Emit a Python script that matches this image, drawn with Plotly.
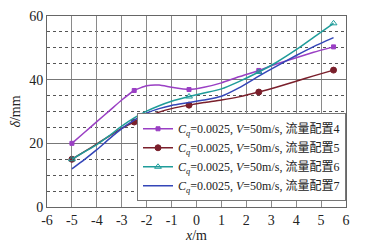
import plotly.graph_objects as go

# ---- data ----
names = [
    "<i>C</i><sub><i>q</i></sub>=0.0025, <i>V</i>=50m/s, 流量配置4",
    "<i>C</i><sub><i>q</i></sub>=0.0025, <i>V</i>=50m/s, 流量配置5",
    "<i>C</i><sub><i>q</i></sub>=0.0025, <i>V</i>=50m/s, 流量配置6",
    "<i>C</i><sub><i>q</i></sub>=0.0025, <i>V</i>=50m/s, 流量配置7",
]

x4 = [-5, -4.5, -4, -3.5, -3, -2.5, -2, -1.5, -1, -0.3, 0.3, 1, 1.7, 2.5, 3.2, 4, 4.7, 5.5]
y4 = [20, 23.4, 26.8, 30.2, 33.6, 36.6, 38.1, 38.3, 37.6, 36.9, 37.6, 39.0, 40.9, 42.9, 44.9, 46.9, 48.6, 50.3]
mx4 = [-5, -2.5, -0.3, 2.5, 5.5]
my4 = [20, 36.6, 36.9, 42.9, 50.3]

x5 = [-5, -4.5, -4, -3.5, -3, -2.5, -2, -1.5, -1, -0.3, 0.3, 1, 1.7, 2.5, 3.2, 4, 4.7, 5.5]
y5 = [15, 17.4, 19.8, 22.3, 24.7, 26.7, 28.4, 29.8, 30.9, 32.0, 32.8, 33.6, 34.6, 36.1, 37.6, 39.5, 41.2, 43.0]
mx5 = [-5, -2.5, -0.3, 2.5, 5.5]
my5 = [15, 26.7, 32.0, 36.1, 43.0]

x6 = [-5, -4.5, -4, -3.5, -3, -2.5, -2, -1.5, -1, -0.3, 0.3, 1, 1.7, 2.5, 3.2, 4, 4.7, 5.5]
y6 = [15, 17.3, 19.6, 22.4, 25.4, 28.0, 30.1, 31.8, 33.2, 34.7, 35.8, 37.1, 39.4, 42.4, 45.4, 49.4, 53.3, 57.7]
mx6 = [-5, -0.3, 2.5, 5.5]
my6 = [15, 34.7, 42.4, 57.7]

x7 = [-5, -4.5, -4, -3.5, -3, -2.5, -2, -1.5, -1, -0.3, 0.3, 1, 1.7, 2.5, 3.2, 4, 4.7, 5.5]
y7 = [12, 14.9, 18.0, 21.4, 24.6, 27.3, 29.5, 30.9, 31.9, 32.8, 33.6, 34.8, 37.4, 41.1, 44.2, 47.6, 50.4, 53.2]

x_ticks = [-6, -5, -4, -3, -2, -1, 0, 1, 2, 3, 4, 5, 6]
x_tick_labels = ["-6", "-5", "-4", "-3", "-2", "-1", "0", "1", "2", "3", "4", "5", "6"]
y_ticks = [0, 20, 40, 60]

colors = ["#9a3fc4", "#7a1f2b", "#1f9c9a", "#3446b8"]
symbols = ["square", "circle", "triangle-up-open", None]
msizes = [4, 6, 6, 0]

series = [
    (x4, y4, mx4, my4),
    (x5, y5, mx5, my5),
    (x6, y6, mx6, my6),
    (x7, y7, None, None),
]

SERIF = "Liberation Serif, Noto Sans CJK SC, serif"

fig = go.Figure()
for i, (xs, ys, mxs, mys) in enumerate(series):
    c = colors[i]
    fig.add_trace(go.Scatter(x=xs, y=ys, mode="lines",
                             line=dict(color=c, width=1.5, shape="spline", smoothing=0.5),
                             showlegend=False, hoverinfo="skip"))
    if mxs is not None:
        fig.add_trace(go.Scatter(x=mxs, y=mys, mode="markers",
                                 marker=dict(color=c, size=msizes[i], symbol=symbols[i],
                                             line=dict(color=c, width=1)),
                                 showlegend=False))
        fig.add_trace(go.Scatter(x=[None], y=[None], mode="lines+markers", name=names[i],
                                 line=dict(color=c, width=1.5),
                                 marker=dict(color=c, size=msizes[i], symbol=symbols[i],
                                             line=dict(color=c, width=1))))
    else:
        fig.add_trace(go.Scatter(x=[None], y=[None], mode="lines", name=names[i],
                                 line=dict(color=c, width=1.5)))

# the page body adds an 8px offset, so the figure is sized to fill the rest of the window
fig.update_layout(
    width=364, height=236,
    margin=dict(l=39, r=26, t=8, b=37, autoexpand=False),
    paper_bgcolor="white", plot_bgcolor="white",
    font=dict(family=SERIF, size=14, color="#222"),
    legend=dict(x=1.0, y=0.03, xanchor="right", yanchor="bottom",
                bgcolor="white", bordercolor="#777", borderwidth=1,
                font=dict(family=SERIF, size=12, color="#222"),
                tracegroupgap=0, itemwidth=30),
    xaxis=dict(range=[-6, 6], tickvals=x_ticks, ticktext=x_tick_labels,
               showgrid=True, gridcolor="#8a8a8a", gridwidth=1,
               showline=True, linecolor="#666", linewidth=1, mirror=True,
               zeroline=False, ticks="", ticklen=0, automargin=False,
               title=dict(text="<i>x</i>/m", standoff=0, font=dict(size=14))),
    yaxis=dict(range=[0, 60], tickvals=y_ticks,
               showgrid=True, gridcolor="#777", gridwidth=1,
               minor=dict(dtick=5, showgrid=True, griddash="dot", gridcolor="#555", gridwidth=1),
               showline=True, linecolor="#666", linewidth=1, mirror=True,
               zeroline=False, ticks="", automargin=False,
               title=dict(text="<i>δ</i>/mm", standoff=8, font=dict(size=14))),
)

fig.write_html("out.html")
